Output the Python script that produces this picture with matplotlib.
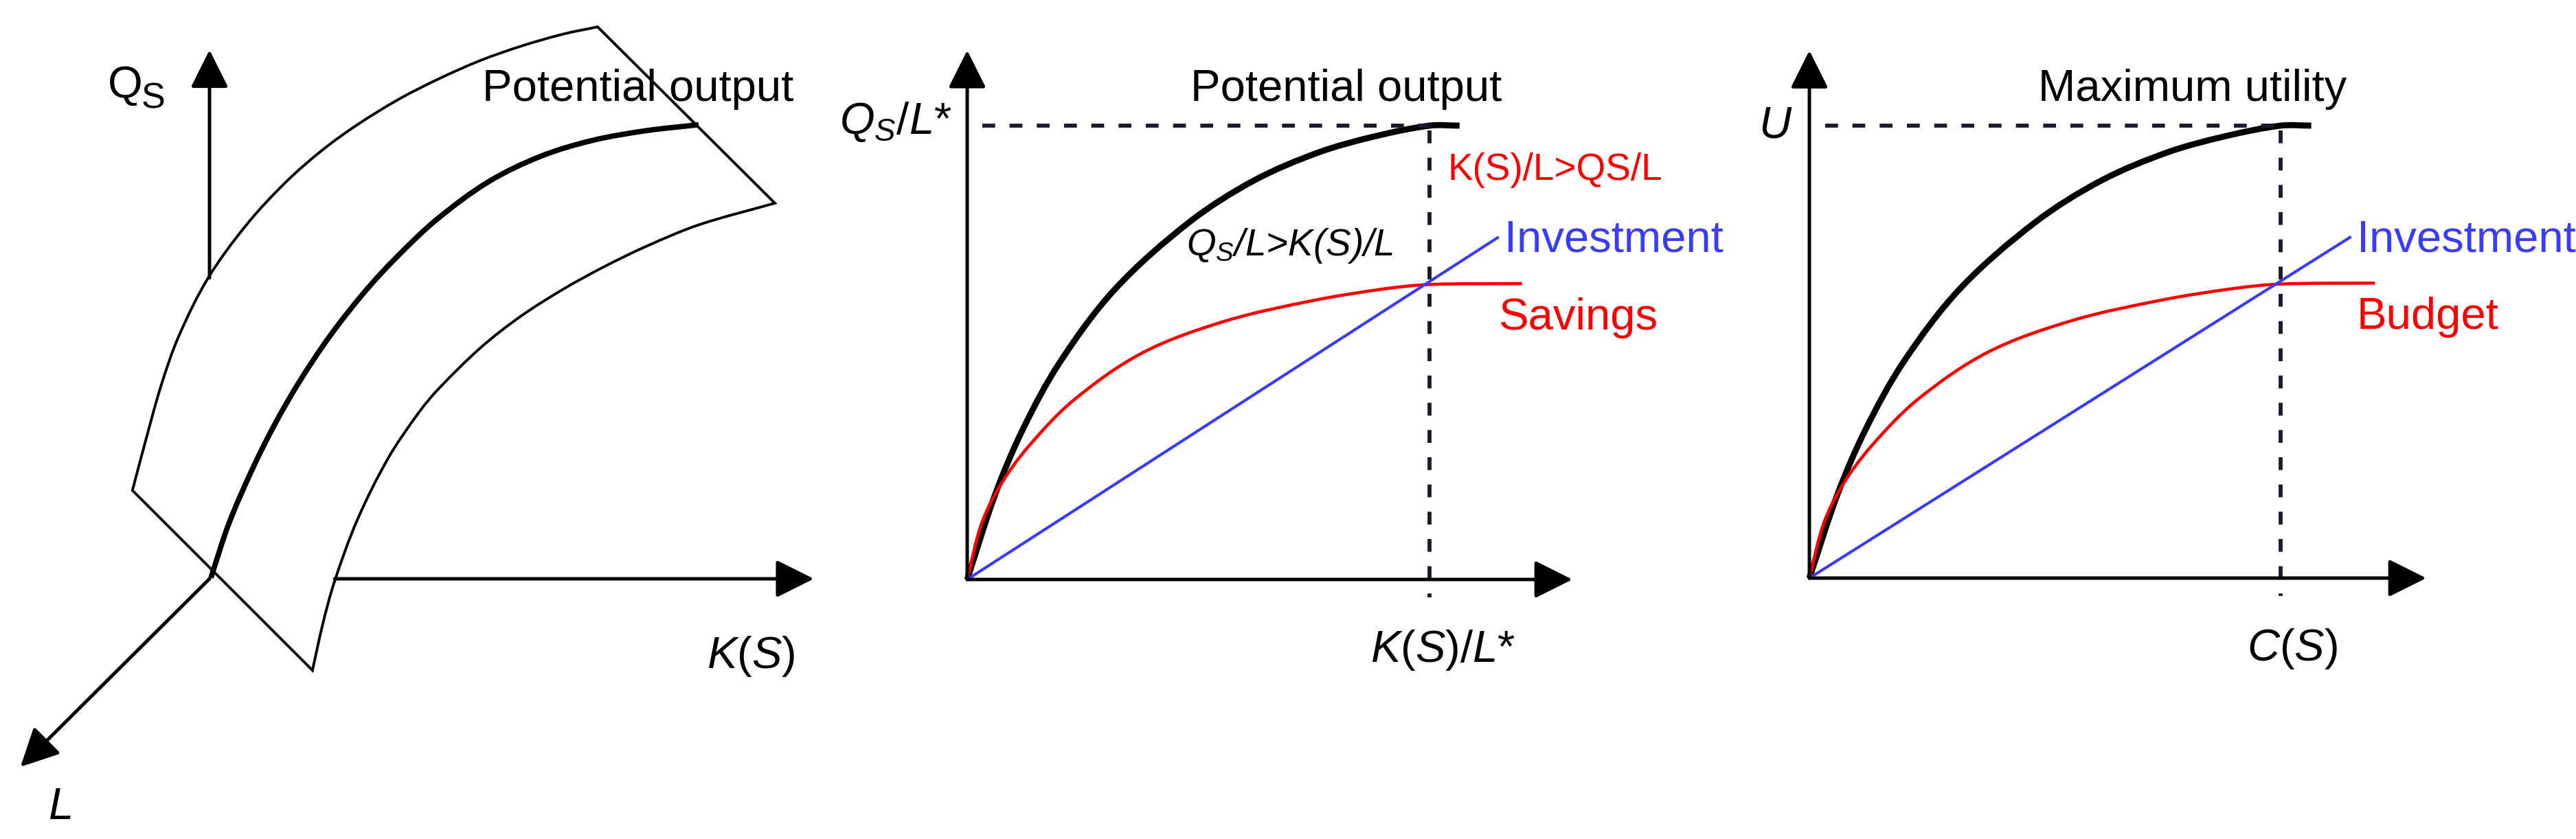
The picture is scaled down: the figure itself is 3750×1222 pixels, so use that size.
import numpy as np
import matplotlib
matplotlib.use("Agg")
import matplotlib.pyplot as plt
from matplotlib.path import Path
from matplotlib.patches import PathPatch

plt.rcParams["font.family"] = ["Liberation Sans", "DejaVu Sans"]
plt.rcParams["mathtext.fontset"] = "custom"
plt.rcParams["mathtext.rm"] = "Liberation Sans"
plt.rcParams["mathtext.it"] = "Liberation Sans:italic"
plt.rcParams["mathtext.bf"] = "Liberation Sans:bold"

# ---------------- data (diagram units, origin = axes origin) ----------------
# left panel: production surface Q_S(K, L)
surf_top_u = [-0.170, -0.139, -0.106, -0.068, -0.003, 0.083, 0.170, 0.250, 0.326,
              0.417, 0.505, 0.598, 0.689, 0.780, 0.856]
surf_top_v = [0.195, 0.312, 0.429, 0.535, 0.664, 0.783, 0.877, 0.947, 1.002,
              1.058, 1.103, 1.144, 1.176, 1.202, 1.218]
surf_mid_u = [0.003, 0.042, 0.094, 0.144, 0.197, 0.265, 0.342, 0.412, 0.500,
              0.615, 0.732, 0.847, 0.964, 1.079]
surf_mid_v = [0.002, 0.120, 0.241, 0.341, 0.433, 0.535, 0.633, 0.709, 0.792,
              0.876, 0.933, 0.968, 0.989, 1.002]
surf_bot_u = [0.227, 0.250, 0.276, 0.326, 0.394, 0.461, 0.505, 0.598, 0.686,
              0.780, 0.871, 0.964, 1.079, 1.247]
surf_bot_v = [-0.202, -0.099, -0.005, 0.130, 0.266, 0.366, 0.419, 0.510, 0.579,
              0.639, 0.689, 0.734, 0.781, 0.829]

# middle / right panels (x: 1 = equilibrium, y: 1 = maximum)
pot_x = [0, 0.06, 0.12, 0.20, 0.32, 0.48, 0.62, 0.76, 0.88, 1.0, 1.065]
pot_y = [0, 0.186, 0.33, 0.478, 0.64, 0.787, 0.879, 0.941, 0.976, 1.0, 1.0]
sav_x = [0, 0.03, 0.07, 0.13, 0.23, 0.38, 0.56, 0.75, 0.90, 1.0, 1.2]
sav_y = [0, 0.12, 0.205, 0.29, 0.395, 0.50, 0.57, 0.615, 0.64, 0.65, 0.652]
inv_x = [0, 1.147]
inv_y = [0, 0.753]
eq_x, top_y = 1.0, 1.0

# ---------------------------- figure ----------------------------------------
W, H, DPI = 3750, 1222, 100
fig = plt.figure(figsize=(W / DPI, H / DPI), dpi=DPI)
BIG, SMALL = 47, 39.5
BLUE, RED, DASH = "#3b3bff", "#ff0000", "#1a1a2e"


def panel(ox, oy, sx, sy):
    ax = fig.add_axes([0, 0, 1, 1])
    ax.set_xlim(-ox / sx, (W - ox) / sx)
    ax.set_ylim(-(H - oy) / sy, oy / sy)
    ax.axis("off"); ax.patch.set_visible(False)
    return ax


def arrow(ax, x0, y0, x1, y1):
    ax.annotate("", xy=(x1, y1), xytext=(x0, y0),
                arrowprops=dict(arrowstyle="-|>,head_length=1.7,head_width=0.85",
                                mutation_scale=20, lw=3.6, color="black",
                                shrinkA=0, shrinkB=0))


def bez(xs, ys):
    # smooth Bezier path through the read points (chord-length Catmull-Rom)
    p = np.column_stack([xs, ys]).astype(float); n = len(p)
    t = np.concatenate([[0], np.cumsum(np.hypot(*np.diff(p, axis=0).T))])
    tan = np.empty_like(p)
    tan[0] = (p[1] - p[0]) / (t[1] - t[0])
    tan[-1] = (p[-1] - p[-2]) / (t[-1] - t[-2])
    for i in range(1, n - 1):
        tan[i] = (p[i + 1] - p[i - 1]) / (t[i + 1] - t[i - 1])
    verts, codes = [], []
    for i in range(n - 1):
        h = (t[i + 1] - t[i]) / 3
        verts += [tuple(p[i] + tan[i] * h), tuple(p[i + 1] - tan[i + 1] * h),
                  tuple(p[i + 1])]
        codes += [Path.CURVE4] * 3
    return verts, codes


def curve(ax, xs, ys, **kw):
    v, c = bez(xs, ys)
    ax.add_patch(PathPatch(Path([(xs[0], ys[0])] + v, [Path.MOVETO] + c),
                           fill=False, capstyle="butt", **kw))


# ---------------------------- left panel ------------------------------------
ax = panel(305, 843, 660, 660)
arrow(ax, 0, 0.664, 0, 1.167)
arrow(ax, 0.276, 0, 1.333, 0)
arrow(ax, 0, 0, -0.417, -0.415)
v1, c1 = bez(surf_top_u, surf_top_v)
v2, c2 = bez(surf_bot_u[::-1], surf_bot_v[::-1])
outline = Path([(surf_top_u[0], surf_top_v[0])] + v1 + [(surf_bot_u[-1], surf_bot_v[-1])]
               + v2 + [(surf_top_u[0], surf_top_v[0])],
               [Path.MOVETO] + c1 + [Path.LINETO] + c2 + [Path.CLOSEPOLY])
ax.add_patch(PathPatch(outline, fill=False, lw=2.8, edgecolor="black",
                       joinstyle="miter"))
curve(ax, surf_mid_u, surf_mid_v, lw=5.6, edgecolor="black")
ax.text(-0.224, 1.062, "Q", fontsize=BIG, va="baseline")
ax.text(-0.150, 1.038, "S", fontsize=BIG * 0.8, va="baseline")
ax.text(0.602, 1.055, "Potential output", fontsize=BIG, va="baseline")
ax.text(1.097, -0.197, r"$K(S)$", fontsize=BIG, va="baseline")
ax.text(-0.356, -0.530, r"$L$", fontsize=BIG, va="baseline")

# --------------------------- middle / right ---------------------------------
specs = [
    dict(o=(1408, 844, 673, 661), title="Potential output", tx=0.483,
         ylab=r"$Q_S/L$*", yl=(-0.034, 0.982, "right"),
         xlab=r"$K(S)/L$*", xl=0.872, red="Savings", rx=1.150, extra=True),
    dict(o=(2634, 842, 686, 659), title="Maximum utility", tx=0.485,
         ylab=r"$U$", yl=(-0.108, 0.974, "left"),
         xlab=r"$C(S)$", xl=0.929, red="Budget", rx=1.161, extra=False),
]
for s in specs:
    ax = panel(*s["o"])
    arrow(ax, 0, 0, 0, 1.166)
    arrow(ax, 0, 0, 1.309, 0)
    ax.plot([0.033, eq_x], [top_y, top_y], ls=(0, (3.2, 3.6)), lw=4.2, color=DASH,
            dash_capstyle="butt")
    ax.plot([eq_x, eq_x], [0.99 * top_y, -0.04], ls=(0, (3.2, 3.6)), lw=4.2,
            color=DASH, dash_capstyle="butt")
    curve(ax, pot_x, pot_y, lw=6.4, edgecolor="black")
    curve(ax, sav_x, sav_y, lw=3.3, edgecolor=RED)
    ax.plot(inv_x, inv_y, color=BLUE, lw=3.0)

    ax.text(s["tx"], 1.054, s["title"], fontsize=BIG, va="baseline")
    x, y, ha = s["yl"]
    ax.text(x, y, s["ylab"], fontsize=BIG, va="baseline", ha=ha)
    ax.text(s["xl"], -0.182, s["xlab"], fontsize=BIG, va="baseline")
    ax.text(1.162, 0.722, "Investment", fontsize=BIG, color=BLUE, va="baseline")
    ax.text(s["rx"], 0.551, s["red"], fontsize=BIG, color=RED, va="baseline")
    if s["extra"]:
        ax.text(1.040, 0.880, "K(S)/L>QS/L", fontsize=SMALL, color=RED,
                va="baseline")
        ax.text(0.474, 0.714, r"$Q_S$/L>K(S)/L", fontsize=SMALL, style="italic",
                va="baseline")

fig.savefig("out.png", dpi=DPI)
